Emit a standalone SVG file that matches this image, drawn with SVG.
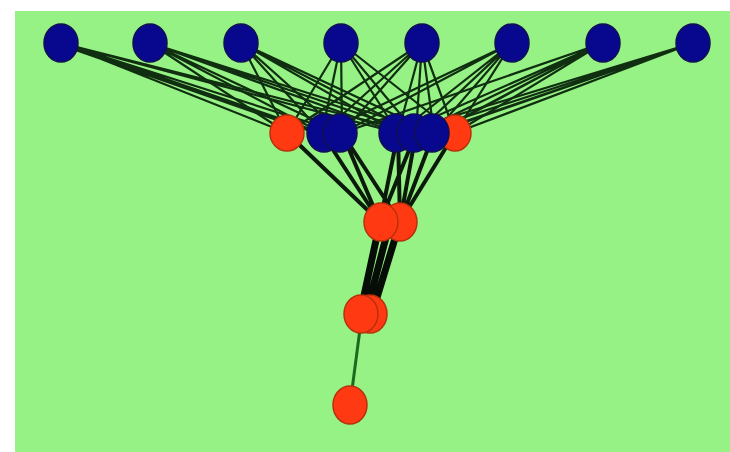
<svg xmlns="http://www.w3.org/2000/svg" width="730" height="452" viewBox="0 0 730 452">
<style>
.e{stroke:#0f2f10;stroke-width:2.2;fill:none;stroke-linecap:round}
.t{stroke:#0b1a0b;stroke-width:4;fill:none;stroke-linecap:round}
.k{stroke:#060c06;stroke-width:7;fill:none;stroke-linecap:round}
.g{stroke:#1a6b1e;stroke-width:3;fill:none}
.b{fill:#08088e;stroke:#101050;stroke-width:1.5}
.r{fill:#ff3a12;stroke:#b8300c;stroke-width:1.5}
</style>
<rect x="0" y="0" width="730" height="452" fill="#ffffff"/>
<rect x="15" y="11" width="715" height="441" fill="#97f285"/>
<g id="connectors">
<g>
<path class="e" d="M61 43L287 133M61 43L322 133M61 43L342 133M61 43L398 133M61 43L416 133M64 46L300 128M58 40L310 131"/>
<path class="e" d="M150 43L287 133M150 43L322 133M150 43L342 133M150 43L398 133M150 43L416 133M150 43L434 133"/>
<path class="e" d="M241 43L287 133M241 43L322 133M241 43L342 133M241 43L398 133M241 43L416 133M241 43L434 133"/>
<path class="e" d="M341 43L287 133M341 43L322 133M341 43L342 133M341 43L398 133M341 43L416 133M341 43L455 133"/>
<path class="e" d="M422 43L287 133M422 43L322 133M422 43L342 133M422 43L398 133M422 43L416 133M422 43L434 133M422 43L455 133"/>
<path class="e" d="M512 43L322 133M512 43L342 133M512 43L398 133M512 43L416 133M512 43L434 133M512 43L455 133"/>
<path class="e" d="M603 43L342 133M603 43L398 133M603 43L416 133M603 43L434 133M603 43L455 133M603 43L445 128"/>
<path class="e" d="M693 43L398 133M693 43L416 133M693 43L434 133M693 43L455 133M693 43L440 130M693 43L450 127"/>
</g>
<g>
<path class="t" d="M287 133L380 222M322 133L380 222M342 133L380 222M342 133L400 222M398 133L380 222M416 133L400 222M434 133L400 222M455 133L400 222M398 133L400 222M416 133L380 222"/>
</g>
<path class="k" d="M380 222L360 314M400 222L372 314M390 222L366 314"/>
<path class="g" d="M362 314L350 405"/>
</g>
<g id="top">
<ellipse id="t1" class="b" cx="61" cy="43" rx="17" ry="19"/>
<ellipse id="t2" class="b" cx="150" cy="43" rx="17" ry="19"/>
<ellipse id="t3" class="b" cx="241" cy="43" rx="17" ry="19"/>
<ellipse id="t4" class="b" cx="341" cy="43" rx="17" ry="19"/>
<ellipse id="t5" class="b" cx="422" cy="43" rx="17" ry="19"/>
<ellipse id="t6" class="b" cx="512" cy="43" rx="17" ry="19"/>
<ellipse id="t7" class="b" cx="603" cy="43" rx="17" ry="19"/>
<ellipse id="t8" class="b" cx="693" cy="43" rx="17" ry="19"/>
</g>
<g id="middle">
<ellipse id="m8" class="r" cx="455" cy="133" rx="16" ry="18"/>
<ellipse id="m1" class="r" cx="287" cy="133" rx="17" ry="18"/>
<ellipse id="m2" class="b" cx="324" cy="133" rx="17" ry="19"/>
<ellipse id="m3" class="b" cx="340" cy="133" rx="17" ry="19"/>
<ellipse id="m4" class="b" cx="396" cy="133" rx="17" ry="19"/>
<ellipse id="m5" class="b" cx="414" cy="133" rx="17" ry="19"/>
<ellipse id="m6" class="b" cx="432" cy="133" rx="17" ry="19"/>
</g>
<g id="lower">
<ellipse id="l2" class="r" cx="400" cy="222" rx="17" ry="19"/>
<ellipse id="l1" class="r" cx="381" cy="222" rx="17" ry="19"/>
</g>
<g id="third">
<ellipse id="n2" class="r" cx="370" cy="314" rx="17" ry="19"/>
<ellipse id="n1" class="r" cx="361" cy="314" rx="17" ry="19"/>
</g>
<g id="bottom">
<ellipse id="p1" class="r" cx="350" cy="405" rx="17" ry="19"/>
</g>
</svg>
